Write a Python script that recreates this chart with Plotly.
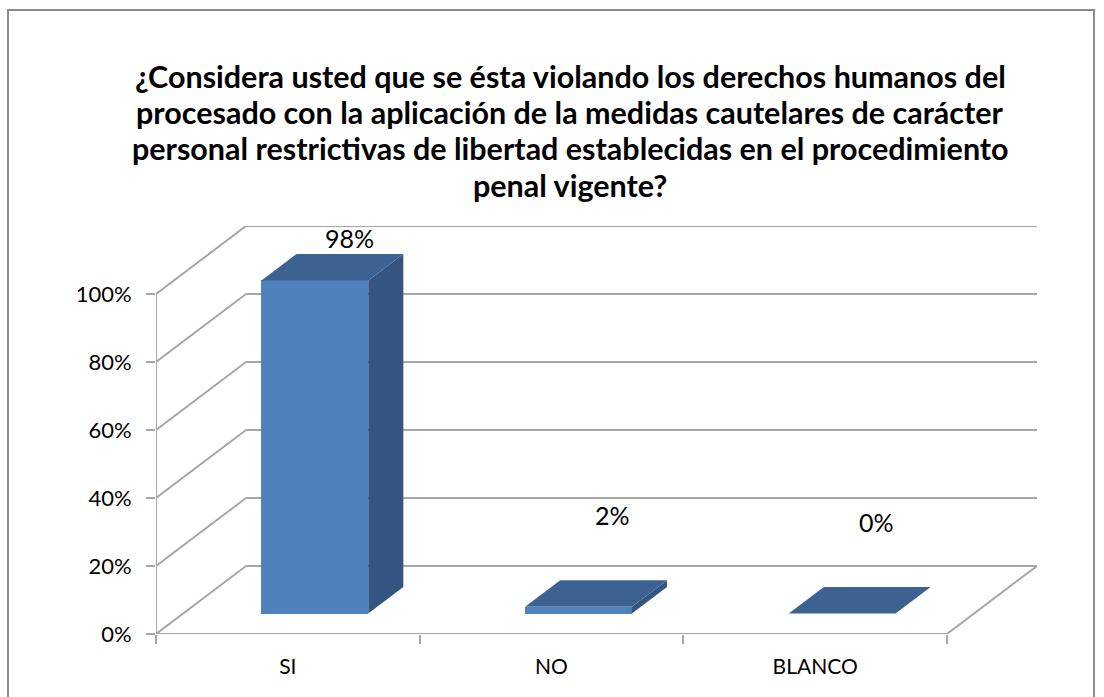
import plotly.graph_objects as go

categories = ["SI", "NO", "BLANCO"]
values = [98, 2, 0]
value_labels = ["98%", "2%", "0%"]
y_ticks = [0, 20, 40, 60, 80, 100]
y_tick_labels = ["0%", "20%", "40%", "60%", "80%", "100%"]
title_lines = [
    "¿Considera usted que se ésta violando los derechos humanos del",
    "procesado con la aplicación de la medidas cautelares de carácter",
    "personal restrictivas de libertad establecidas en el procedimiento",
    "penal vigente?",
]

# 3D projection (depth offsets in axis units)
DX = 0.3415
DY = 20.0
F0, F1 = 0.30, 0.69
W = 0.405
GRID = "#A6A6A6"
FRONT = "#4F81BD"
TOP = "#3C6291"
SIDE = "#34557F"
FONT = "Lato"

# figure geometry (pixels)
FW, FH = 1104, 697
L, R, T, B = 156, 67, 226, 63
PW, PH = FW - L - R, FH - T - B

n = len(categories)
centers = [i + 0.5 for i in range(n)]

fig = go.Figure()

# front faces
fig.add_trace(go.Bar(
    x=[c + F0 * DX for c in centers], y=values, base=[F0 * DY] * n, width=W,
    marker=dict(color=FRONT, line=dict(width=0)), hoverinfo="skip", showlegend=False,
))

ddx = (F1 - F0) * DX
ddy = (F1 - F0) * DY
b = F0 * DY
for c, v in zip(centers, values):
    xl = c - W / 2 + F0 * DX
    xr = c + W / 2 + F0 * DX
    # side face
    fig.add_trace(go.Scatter(
        x=[xr, xr + ddx, xr + ddx, xr, xr], y=[b, b + ddy, b + ddy + v, b + v, b],
        fill="toself", fillcolor=SIDE, mode="lines", line=dict(width=0, color=SIDE),
        hoverinfo="skip", showlegend=False))
    # top face
    fig.add_trace(go.Scatter(
        x=[xl, xr, xr + ddx, xl + ddx, xl], y=[b + v, b + v, b + v + ddy, b + v + ddy, b + v],
        fill="toself", fillcolor=TOP, mode="lines", line=dict(width=0, color=TOP),
        hoverinfo="skip", showlegend=False))

shapes = []
ln = dict(color=GRID, width=2)
for t in y_ticks:
    shapes.append(dict(type="line", xref="x", yref="y", x0=DX, y0=t + DY, x1=n + DX, y1=t + DY, line=ln, layer="below"))
    shapes.append(dict(type="line", xref="x", yref="y", x0=0, y0=t, x1=DX, y1=t + DY, line=ln, layer="below"))
# floor front edge, right edge, and value axis
shapes.append(dict(type="line", xref="x", yref="y", x0=0, y0=0, x1=n, y1=0, line=ln, layer="below"))
shapes.append(dict(type="line", xref="x", yref="y", x0=n, y0=0, x1=n + DX, y1=DY, line=ln, layer="below"))
shapes.append(dict(type="line", xref="x", yref="y", x0=0, y0=0, x1=0, y1=max(y_ticks), line=ln, layer="below"))
# outer chart frame
shapes.append(dict(type="rect", xref="paper", yref="paper",
                   x0=(8 - L) / PW, x1=(1094 - L) / PW, y0=(634 - 702) / PH, y1=(634 - 10) / PH,
                   line=dict(color="#8C8C8C", width=2), layer="below"))

annotations = []
for c, v, lab in zip(centers, values, value_labels):
    annotations.append(dict(x=c + 0.68 * DX, y=v + (18.5 if v >= 14 else 33), xref="x", yref="y",
                            text=lab, showarrow=False, font=dict(family=FONT, size=25, color="black")))

# title, one annotation per line
for i, line in enumerate(title_lines):
    y_px = 76 + 36.2 * i
    annotations.append(dict(x=(570 - L) / PW, y=(634 - y_px) / PH, xref="paper", yref="paper",
                            xanchor="center", yanchor="middle", text=line, showarrow=False,
                            font=dict(family=FONT, size=30.5, color="black", weight="bold")))

fig.update_layout(
    width=FW, height=FH,
    margin=dict(l=L, r=R, t=T, b=B),
    paper_bgcolor="white", plot_bgcolor="white",
    xaxis=dict(range=[0, n + DX], tickvals=centers, ticktext=categories, ticks="",
               showgrid=False, zeroline=False, showline=False,
               minor=dict(tickvals=list(range(n + 1)), ticks="outside", ticklen=9, tickwidth=2, tickcolor=GRID),
               tickfont=dict(family=FONT, size=21, color="black"), ticklabelstandoff=18),
    yaxis=dict(range=[0, 100 + DY], tickvals=y_ticks, ticktext=y_tick_labels, ticks="outside",
               ticklen=9, tickwidth=2, tickcolor=GRID, showgrid=False, zeroline=False, showline=False,
               tickfont=dict(family=FONT, size=22, color="black"), ticklabelstandoff=10),
    shapes=shapes, annotations=annotations, hovermode=False, bargap=0,
)

fig.write_html("out.html", config={"displayModeBar": False},
               post_script="document.body.style.margin='0px';")
